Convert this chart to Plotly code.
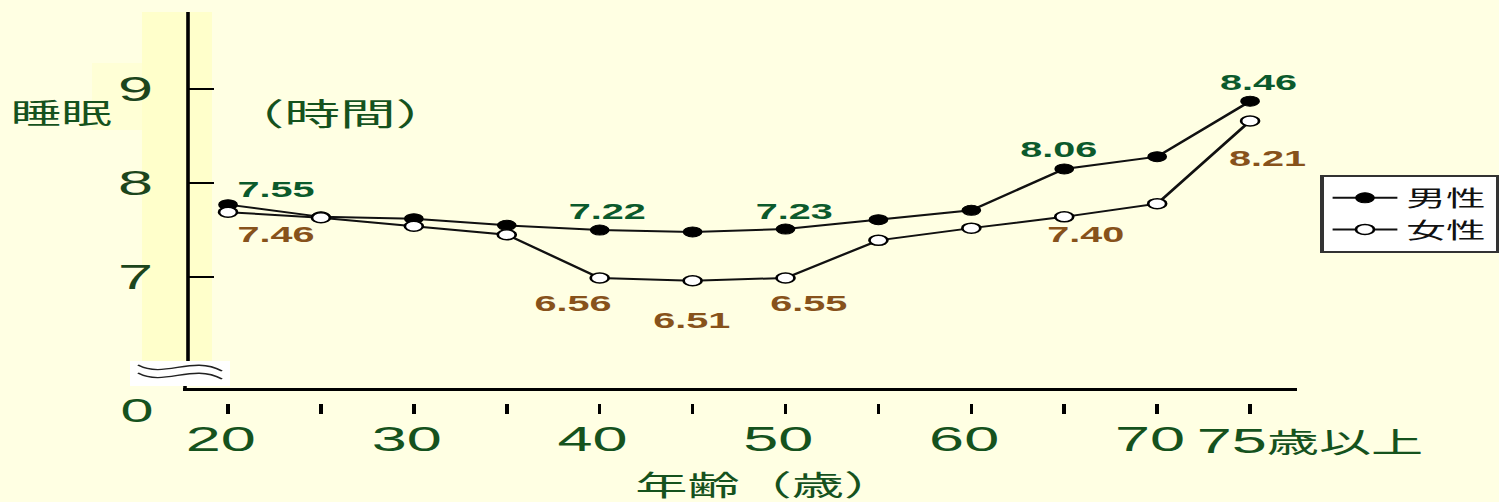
import plotly.graph_objects as go

# ---------------- data ----------------
ages = [20, 25, 30, 35, 40, 45, 50, 55, 60, 65, 70, 75]
x_tick_text = ["20", "", "30", "", "40", "", "50", "", "60", "", "70", ""]
last_age_label = "75歳以上"
series_names = ["男性", "女性"]
male = [7.77, 7.64, 7.62, 7.55, 7.50, 7.48, 7.51, 7.61, 7.71, 8.15, 8.28, 8.87]
female = [7.69, 7.63, 7.54, 7.45, 6.99, 6.96, 6.99, 7.39, 7.52, 7.64, 7.78, 8.66]
male_label_idx = [0, 4, 6, 9, 11]
male_label_txt = ["7.55", "7.22", "7.23", "8.06", "8.46"]
female_label_idx = [0, 4, 5, 6, 9, 11]
female_label_txt = ["7.46", "6.56", "6.51", "6.55", "7.40", "8.21"]
y_tick_vals = [7, 8, 9]
y_tick_text = ["7", "8", "9"]
y_title_left = "睡眠"
y_title_right = "（時間）"
x_title = "年齢（歳）"
zero_label = "0"

# ---------------- styling / geometry ----------------
FULL_W, H = 1499, 502
W = 833                       # drawing width, stretched horizontally to FULL_W
S = FULL_W / W
ML, MR, MT, MB = 104, 112, 12, 99
PW, PH = W - ML - MR, H - MT - MB
PB = H - MB

def px(xr):   # reference pixel x -> paper x
    return (xr / S - ML) / PW

def py(yr):   # reference pixel y -> paper y
    return (PB - yr) / PH

BG = "#FFFFE3"
BAND = "#FFFFCB"
RECT = "#FFFFD6"
GREEN = "#15521D"
MALE_C = "#0B5A2C"
FEMALE_C = "#87521B"
FONT = "Liberation Sans, Arial, Noto Sans CJK JP, sans-serif"

male_offsets = [(26.7, 15), (3.9, 19), (5, 18), (-2.8, 19), (4.4, 19)]
female_offsets = [(26.7, -22), (-14.4, -26), (-0.6, -40), (12.8, -26), (12.2, -18), (10, -38)]

fig = go.Figure()
fig.add_trace(go.Scatter(
    x=ages, y=male, name=series_names[0], mode="lines+markers",
    line=dict(color="#111111", width=2),
    marker=dict(size=10, color="#000000", line=dict(color="#000000", width=1)),
))
fig.add_trace(go.Scatter(
    x=ages, y=female, name=series_names[1], mode="lines+markers",
    line=dict(color="#111111", width=2),
    marker=dict(size=10, color="#FFFFFF", line=dict(color="#000000", width=1.5)),
))

annotations = []
for i, t, (dx, dy) in zip(male_label_idx, male_label_txt, male_offsets):
    annotations.append(dict(x=ages[i], y=male[i], text=t, showarrow=False,
                            xanchor="center", yanchor="middle", xshift=dx, yshift=dy,
                            font=dict(family=FONT, size=22, color=MALE_C, weight="bold")))
for i, t, (dx, dy) in zip(female_label_idx, female_label_txt, female_offsets):
    annotations.append(dict(x=ages[i], y=female[i], text=t, showarrow=False,
                            xanchor="center", yanchor="middle", xshift=dx, yshift=dy,
                            font=dict(family=FONT, size=22, color=FEMALE_C, weight="bold")))

def ann(xr, yr, text, size, color=GREEN):
    return dict(xref="paper", yref="paper", x=px(xr), y=py(yr), text=text, showarrow=False,
                xanchor="center", yanchor="middle",
                font=dict(family=FONT, size=size, color=color))

annotations += [
    ann(62, 114, y_title_left, 28),
    ann(341, 114, y_title_right, 31),
    ann(136, 411, zero_label, 33),
    ann(766, 486, x_title, 29),
    dict(xref="x", yref="paper", x=ages[-1], y=py(440), xanchor="left", yanchor="middle", xshift=-32,
         text=last_age_label[:2] + "<span style='font-size:29px'>" + last_age_label[2:] + "</span>",
         showarrow=False, font=dict(family=FONT, size=35, color=GREEN)),
]

def wave(y0):
    pts = [(138, y0), (165, y0 + 14), (192, y0 - 10), (222, y0 + 6)]
    (a, b), (c, d), (e, f), (g, h) = [(px(x), py(y)) for x, y in pts]
    return f"M {a},{b} C {c},{d} {e},{f} {g},{h}"

shapes = [
    dict(type="rect", xref="paper", yref="paper", x0=px(92), x1=px(142), y0=py(130), y1=py(63),
         fillcolor=RECT, line=dict(width=0), layer="below"),
    dict(type="rect", xref="paper", yref="paper", x0=px(142), x1=px(212), y0=py(361), y1=py(12),
         fillcolor=BAND, line=dict(width=0), layer="below"),
    dict(type="line", xref="paper", yref="paper", x0=px(188), x1=px(188), y0=py(367), y1=py(12),
         line=dict(color="#000000", width=2), layer="below"),
    dict(type="line", xref="paper", yref="paper", x0=px(183), x1=px(1297), y0=py(389.5), y1=py(389.5),
         line=dict(color="#000000", width=3), layer="below"),
    dict(type="line", xref="paper", yref="paper", x0=px(185), x1=px(185), y0=py(391), y1=py(385),
         line=dict(color="#000000", width=2), layer="below"),
    dict(type="rect", xref="paper", yref="paper", x0=px(130), x1=px(230), y0=py(386), y1=py(361),
         fillcolor="#FFFFFF", line=dict(width=0), layer="below"),
    dict(type="path", xref="paper", yref="paper", path=wave(365),
         line=dict(color="#222222", width=1.3), layer="below"),
    dict(type="path", xref="paper", yref="paper", path=wave(373),
         line=dict(color="#222222", width=1.3), layer="below"),
]

fig.update_layout(
    width=W, height=H,
    margin=dict(l=ML, r=MR, t=MT, b=MB, pad=0, autoexpand=False),
    paper_bgcolor=BG, plot_bgcolor=BG,
    font=dict(family=FONT, color=GREEN),
    showlegend=True,
    legend=dict(x=px(1320), y=py(175), xanchor="left", yanchor="top",
                bgcolor="#FFFFFF", bordercolor="#333333", borderwidth=2,
                font=dict(family=FONT, size=22, color="#111111"),
                tracegroupgap=0, itemwidth=36),
    xaxis=dict(range=[17.80, 77.55], tickmode="array", tickvals=ages, ticktext=x_tick_text,
               ticks="outside", ticklen=10, tickwidth=2, tickcolor="#000000",
               showline=False, showgrid=False, zeroline=False, ticklabelstandoff=-5,
               ticklabelshift=-4, automargin=False,
               tickfont=dict(family=FONT, size=35, color=GREEN)),
    yaxis=dict(range=[5.660, 9.819], tickmode="array", tickvals=y_tick_vals, ticktext=y_tick_text,
               ticks="inside", ticklen=15, tickwidth=2, tickcolor="#000000",
               showline=False, showgrid=False, zeroline=False, ticklabelstandoff=18,
               automargin=False,
               tickfont=dict(family=FONT, size=35, color="#1C451C")),
    annotations=annotations,
    shapes=shapes,
)

post = ("document.body.style.margin='0';"
        "var gd=document.getElementById('{plot_id}');"
        "gd.style.transformOrigin='0 0';"
        "gd.style.transform='scaleX(" + str(S) + ")';")
fig.write_html("out.html", post_script=post, config={"displayModeBar": False})
